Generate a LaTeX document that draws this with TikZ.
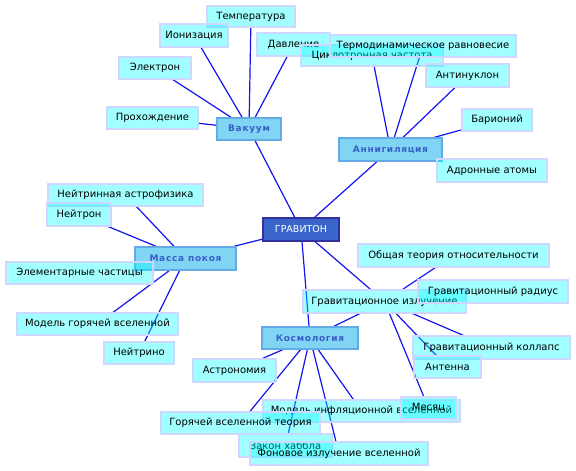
\documentclass[tikz,border=0pt]{standalone}
\usepackage{fontspec}
\setmainfont{DejaVu Sans}
\usetikzlibrary{backgrounds}
\definecolor{leaffill}{RGB}{0,255,255}
\definecolor{leafdraw}{RGB}{205,215,255}
\definecolor{catfill}{RGB}{128,212,244}
\definecolor{catdraw}{RGB}{100,170,230}
\definecolor{cattext}{RGB}{58,94,200}
\definecolor{rootfill}{RGB}{58,102,204}
\definecolor{rootdraw}{RGB}{48,48,160}
\definecolor{edgecol}{RGB}{20,20,240}
\tikzset{
  leaf/.style={draw=leafdraw, line width=1.2pt, fill=leaffill, fill opacity=0.37, text opacity=1,
    inner sep=0pt, font=\fontsize{10}{12}\selectfont, text=black},
  cat/.style={draw=catdraw, line width=1.2pt, fill=catfill, inner sep=0pt,
    font=\fontsize{9}{11}\selectfont\bfseries\addfontfeatures{LetterSpace=8}, text=cattext},
  root/.style={draw=rootdraw, line width=1.5pt, fill=rootfill, inner sep=0pt,
    font=\fontsize{9.5}{11}\selectfont, text=white},
  sz/.style 2 args={minimum width=#1pt, minimum height=#2pt},
  edge/.style={draw=edgecol, line width=1.2pt}
}
\begin{document}
\begin{tikzpicture}[x=1pt,y=-1pt]
\useasboundingbox (0,0) rectangle (576,471);
% categories
\node[root, sz={76}{23}] (grav) at (301,229.5) {ГРАВИТОН};
\node[cat, sz={64}{22}] (vac) at (249,129) {Вакуум};
\node[cat, sz={103}{23}] (ann) at (390.5,149.5) {Аннигиляция};
\node[cat, sz={101}{23}] (mass) at (185.5,258.5) {Масса покоя};
\node[cat, sz={96}{22}] (cosm) at (310,338) {Космология};
% leaves of Вакуум
\node[leaf, sz={88}{21}] (temp) at (251,16.5) {Температура};
\node[leaf, sz={68}{23}] (ion) at (194,35.5) {Ионизация};
\node[leaf, sz={73}{23}] (press) at (293.5,44.5) {Давление};
\node[leaf, sz={72}{22}] (elec) at (155,68) {Электрон};
\node[leaf, sz={91}{22}] (pass) at (152.5,118) {Прохождение};
% leaves of Аннигиляция
\node[leaf, sz={142}{21}] (cycl) at (372,55.5) {Циклотронная частота};
\node[leaf, sz={186}{22}] (thermo) at (423,46) {Термодинамическое равновесие};
\node[leaf, sz={83}{23}] (antin) at (467.5,75.5) {Антинуклон};
\node[leaf, sz={70}{22}] (bar) at (497,120) {Барионий};
\node[leaf, sz={110}{23}] (hadr) at (492,170.5) {Адронные атомы};
% leaves of Масса покоя
\node[leaf, sz={155}{22}] (nastro) at (125.5,195) {Нейтринная астрофизика};
\node[leaf, sz={64}{23}] (neutron) at (79,214.5) {Нейтрон};
\node[leaf, sz={147}{22}] (elem) at (79.5,273) {Элементарные частицы};
\node[leaf, sz={161}{22}] (hotm) at (97.5,324) {Модель горячей вселенной};
\node[leaf, sz={70}{22}] (nino) at (139,353) {Нейтрино};
% Гравитационное излучение
\node[leaf, sz={191}{23}] (gtr) at (453.5,255.5) {Общая теория относительности};
\node[leaf, sz={163}{23}] (grad) at (384.5,301.5) {Гравитационное излучение};
\node[leaf, sz={150}{23}] (grr) at (493,291.5) {Гравитационный радиус};
\node[leaf, sz={157}{23}] (coll) at (491.5,347.5) {Гравитационный коллапс};
\node[leaf, sz={67}{22}] (ant) at (447.5,367) {Антенна};
% leaves of Космология
\node[leaf, sz={83}{23}] (astr) at (234.5,370.5) {Астрономия};
\node[leaf, sz={197}{22}] (infl) at (361.5,411) {Модель инфляционной вселенной};
\node[leaf, sz={55}{22}] (moon) at (428.5,408) {Месяц};
\node[leaf, sz={159}{22}] (hot) at (240.5,423) {Горячей вселенной теория};
\node[leaf, sz={93}{23}] (hub) at (285.5,445.5) {Закон хаббла};
\node[leaf, sz={178}{23}] (cmb) at (339,453.5) {Фоновое излучение вселенной};
% connectors
\begin{scope}[on background layer]
\draw[edge] (grav) -- (vac);
\draw[edge] (grav) -- (ann);
\draw[edge] (grav) -- (mass);
\draw[edge] (grav) -- (cosm);
\draw[edge] (grav) -- (grad);
\draw[edge] (vac) -- (temp);
\draw[edge] (vac) -- (ion);
\draw[edge] (vac) -- (press);
\draw[edge] (vac) -- (elec);
\draw[edge] (vac) -- (pass);
\draw[edge] (ann) -- (cycl);
\draw[edge] (ann) -- (thermo);
\draw[edge] (ann) -- (antin);
\draw[edge] (ann) -- (bar);
\draw[edge] (mass) -- (nastro);
\draw[edge] (mass) -- (neutron);
\draw[edge] (mass) -- (hotm);
\draw[edge] (mass) -- (nino);
\draw[edge] (grad) -- (gtr);
\draw[edge] (grad) -- (coll);
\draw[edge] (grad) -- (ant);
\draw[edge] (grad) -- (moon);
\draw[edge] (grad) -- (cosm);
\draw[edge] (cosm) -- (astr);
\draw[edge] (cosm) -- (hot);
\draw[edge] (cosm) -- (hub);
\draw[edge] (cosm) -- (cmb);
\draw[edge] (cosm) -- (infl);
\end{scope}
\end{tikzpicture}
\end{document}
